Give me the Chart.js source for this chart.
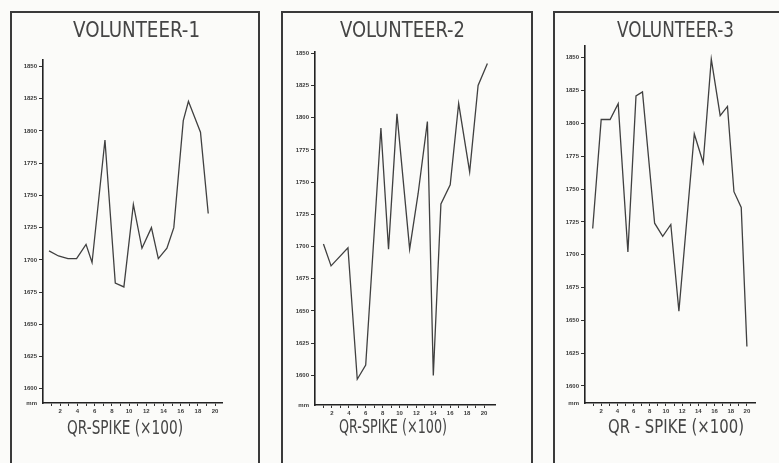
<!DOCTYPE html>
<html>
<head>
<meta charset="utf-8">
<script src="https://cdn.jsdelivr.net/npm/chart.js@4.4.1/dist/chart.umd.min.js"></script>
<style>
  html, body { margin: 0; padding: 0; width: 779px; height: 463px; overflow: hidden; background: #fbfbf9; }
  .frame { position: absolute; border: 2px solid #3a3a3a; border-bottom: none; box-sizing: border-box; }
  canvas { position: absolute; }
</style>
</head>
<body>
<div class="frame" style="left:10px; top:11px; width:250px; height:470px"></div>
<div class="frame" style="left:281px; top:11px; width:252px; height:470px"></div>
<div class="frame" style="left:553px; top:11px; width:300px; height:470px"></div>
<canvas id="c1"></canvas>
<canvas id="c2"></canvas>
<canvas id="c3"></canvas>
<script>
// QR-spike position (x100) and the matching value in mm, one pair of arrays per volunteer
const v1Spike = [0.7, 1.8, 2.9, 3.9, 5.0, 5.7, 7.2, 8.4, 9.4, 10.5, 11.5, 12.6, 13.4, 14.4, 15.2, 16.3, 16.9, 18.3, 19.2];
const v1Value = [1707, 1703, 1701, 1701, 1712, 1698, 1793, 1682, 1679, 1743, 1709, 1725, 1701, 1709, 1725, 1808, 1823, 1799, 1736];

const v2Spike = [1.0, 1.9, 3.9, 5.0, 6.0, 6.9, 7.8, 8.7, 9.7, 11.2, 12.2, 13.3, 14.0, 14.9, 16.0, 17.0, 18.3, 19.3, 20.4];
const v2Value = [1702, 1685, 1699, 1597, 1608, 1700, 1792, 1698, 1803, 1698, 1741, 1797, 1600, 1733, 1748, 1811, 1758, 1825, 1842];

const v3Spike = [0.95, 2.0, 3.1, 4.1, 5.3, 6.3, 7.1, 8.6, 9.6, 10.6, 11.6, 13.5, 14.6, 15.6, 16.7, 17.6, 18.4, 19.3, 20.0];
const v3Value = [1720, 1803, 1803, 1815, 1702, 1821, 1824, 1724, 1714, 1723, 1657, 1792, 1770, 1849, 1806, 1813, 1748, 1736, 1630];

// axis ticks
const yTickValues = [1600, 1625, 1650, 1675, 1700, 1725, 1750, 1775, 1800, 1825, 1850];
const yTickLabels = ['1600', '1625', '1650', '1675', '1700', '1725', '1750', '1775', '1800', '1825', '1850'];
const yUnitLabel = 'mm';
const xTickValues = [0, 1, 2, 3, 4, 5, 6, 7, 8, 9, 10, 11, 12, 13, 14, 15, 16, 17, 18, 19, 20];
const xLabelled = [2, 4, 6, 8, 10, 12, 14, 16, 18, 20];
const xTickLabels = ['2', '4', '6', '8', '10', '12', '14', '16', '18', '20'];

const titles = ['VOLUNTEER-1', 'VOLUNTEER-2', 'VOLUNTEER-3'];
const captions = ['QR-SPIKE (×100)', 'QR-SPIKE (×100)', 'QR - SPIKE (×100)'];

const LETTER_FONT = '"Liberation Sans Narrow", "DejaVu Sans Condensed", "Liberation Sans", sans-serif';
const INK = '#454545';

// hand-lettered heading and axis caption of each panel
const panelText = {
  id: 'panelText',
  afterDraw(chart, args, o) {
    const ctx = chart.ctx;
    ctx.save();
    ctx.fillStyle = INK;
    ctx.textAlign = 'center';
    ctx.textBaseline = 'alphabetic';
    ctx.font = '22px ' + LETTER_FONT;
    ctx.fillText(o.title, o.titleX, o.titleY, o.titleW);
    ctx.font = '20px ' + LETTER_FONT;
    ctx.fillText(o.caption, o.capX, o.capY, o.capW);
    ctx.restore();
  }
};

const panels = [
  { id: 'c1', spike: v1Spike, value: v1Value, title: titles[0], caption: captions[0],
    box: { left: 13, top: 13, width: 245, height: 450 },
    area: { left: 43, top: 60, right: 222, bottom: 403 },
    xMax: 20.8, yMin: 1589, yMax: 1855,
    titleAt: [136.5, 37, 127], capAt: [125, 434, 116] },
  { id: 'c2', spike: v2Spike, value: v2Value, title: titles[1], caption: captions[1],
    box: { left: 284, top: 13, width: 246, height: 450 },
    area: { left: 315, top: 52, right: 495, bottom: 405 },
    xMax: 21.3, yMin: 1577, yMax: 1851,
    titleAt: [402.5, 37, 125], capAt: [393, 433, 108] },
  { id: 'c3', spike: v3Spike, value: v3Value, title: titles[2], caption: captions[2],
    box: { left: 556, top: 13, width: 223, height: 450 },
    area: { left: 585, top: 46, right: 755, bottom: 403 },
    xMax: 21.0, yMin: 1587, yMax: 1859,
    titleAt: [675.5, 37, 117], capAt: [676, 433, 136] }
];

const tickFont = { family: '"Liberation Sans", Arial, sans-serif', size: 6, weight: 'bold' };

panels.forEach(p => {
  const cv = document.getElementById(p.id);
  const b = p.box;
  cv.style.left = b.left + 'px';
  cv.style.top = b.top + 'px';
  cv.style.width = b.width + 'px';
  cv.style.height = b.height + 'px';
  cv.width = b.width;
  cv.height = b.height;

  new Chart(cv, {
    type: 'scatter',
    data: {
      datasets: [{
        data: p.spike.map((x, i) => ({ x: x, y: p.value[i] })),
        showLine: true,
        borderColor: '#404040',
        borderWidth: 1.3,
        pointRadius: 0,
        tension: 0
      }]
    },
    options: {
      responsive: false,
      animation: false,
      devicePixelRatio: 1,
      layout: {
        padding: {
          left: 0,
          top: p.area.top - b.top,
          right: b.left + b.width - p.area.right,
          bottom: 0
        }
      },
      plugins: {
        legend: { display: false },
        tooltip: { enabled: false },
        title: { display: false },
        panelText: {
          title: p.title, titleX: p.titleAt[0] - b.left, titleY: p.titleAt[1] - b.top, titleW: p.titleAt[2],
          caption: p.caption, capX: p.capAt[0] - b.left, capY: p.capAt[1] - b.top, capW: p.capAt[2]
        }
      },
      scales: {
        x: {
          type: 'linear',
          min: 0,
          max: p.xMax,
          afterFit: s => { s.height = b.top + b.height - p.area.bottom; },
          afterBuildTicks: s => { s.ticks = xTickValues.map(v => ({ value: v })); },
          ticks: {
            autoSkip: false,
            maxRotation: 0,
            padding: 2,
            color: '#3a3a3a',
            font: tickFont,
            callback: v => {
              const k = xLabelled.indexOf(v);
              return k >= 0 ? xTickLabels[k] : '';
            }
          },
          grid: {
            drawOnChartArea: false,
            drawTicks: true,
            tickLength: 3,
            tickWidth: 1,
            tickColor: c => (c.index === 0 ? 'rgba(0,0,0,0)' : '#333')
          },
          border: { display: true, color: '#222', width: 1.6 }
        },
        y: {
          type: 'linear',
          min: p.yMin,
          max: p.yMax,
          afterFit: s => { s.width = p.area.left - b.left; },
          afterBuildTicks: s => {
            s.ticks = [{ value: p.yMin }].concat(yTickValues.map(v => ({ value: v })));
          },
          ticks: {
            autoSkip: false,
            padding: 2,
            color: '#3a3a3a',
            font: tickFont,
            callback: v => {
              if (v === p.yMin) return yUnitLabel;
              const k = yTickValues.indexOf(v);
              return k >= 0 ? yTickLabels[k] : '';
            }
          },
          grid: {
            drawOnChartArea: false,
            drawTicks: true,
            tickLength: 4,
            tickWidth: 1,
            tickColor: c => (c.index === 0 ? 'rgba(0,0,0,0)' : '#333')
          },
          border: { display: true, color: '#222', width: 1.6 }
        }
      }
    },
    plugins: [panelText]
  });
});
</script>
</body>
</html>
